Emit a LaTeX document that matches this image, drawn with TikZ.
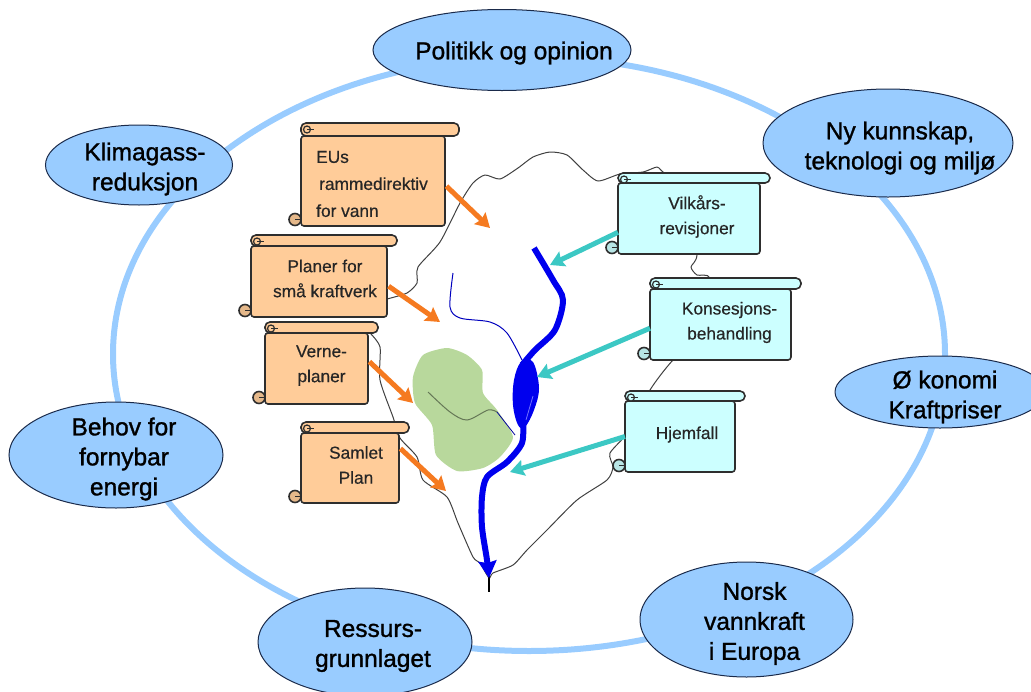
\documentclass[tikz,border=0pt]{standalone}
\usepackage{fontspec}
\setmainfont{Liberation Sans}
\newfontfamily\bubblefont{Liberation Sans}[FakeBold=1.2]
\newfontfamily\scrollfont{Liberation Sans}[FakeBold=0.4]
\usetikzlibrary{shapes.geometric,arrows.meta}

\definecolor{ringblue}{HTML}{99CCFF}
\definecolor{bubbleblue}{HTML}{99CCFF}
\definecolor{bubbleline}{HTML}{1A2A4A}
\definecolor{scrollorange}{HTML}{FFCC99}
\definecolor{scrollcyan}{HTML}{CCFFFF}
\definecolor{scrollline}{HTML}{2E2E2E}
\definecolor{arroworange}{HTML}{F57A20}
\definecolor{arrowteal}{HTML}{3CC8C4}
\definecolor{landgreen}{HTML}{B8D89C}
\definecolor{riverblue}{HTML}{0000EE}

\tikzset{
    bubble/.style={draw=bubbleline, line width=1pt, ellipse, fill=bubbleblue, inner sep=0pt},
    bubbletext/.style={align=center, text=black, font=\bubblefont\fontsize{24.5}{30}\selectfont},
    scrollbody/.style={rectangle, draw=scrollline, line width=1.6pt, rounded corners=3pt, inner sep=0pt, outer sep=0pt},
    scrolltext/.style={align=center, text=black!85, font=\scrollfont\fontsize{17.3}{25}\selectfont},
    orangearrow/.style={->, draw=arroworange, line width=5pt, shorten <=2pt},
    tealarrow/.style={->, draw=arrowteal, line width=5pt},
}

% name, left, top, roll end, roll bottom, body right, bottom, fill
\newcommand{\scrollbox}[8]{
    \node[scrollbody, fill=#8, minimum width={(#6-#2)*1pt}, minimum height={(#7-#5)*1pt}] (#1) at ({(#2+#6)/2},{(#5+#7)/2}) {};
    \draw[scrollline, line width=1.6pt, fill=#8, rounded corners=5pt] (#2,#5) -- (#2,#3) -- (#4,#3) -- (#4,#5) -- cycle;
    \draw[scrollline, line width=1.2pt, fill=#8] ({#2+6},{#3+6.5}) circle[radius=3.5pt];
    \draw[scrollline, line width=1pt] ({#2+6},{#3+6.5}) -- ({#2+13},{#3+6.5});
    \draw[scrollline, line width=1.6pt, fill=#8!90!black] ({#2-6},{#7-6.5}) circle[radius=6pt];
    \draw[scrollline, line width=1pt] ({#2-6},{#7-6.5}) -- ({#2},{#7-6.5});
}

\begin{document}
\begin{tikzpicture}[x=1pt,y=-1pt,>={Stealth[length=14pt,width=16pt,inset=2pt]}]
    \useasboundingbox (0,0) rectangle (1031,691);

    % ring behind the bubbles
    \draw[ringblue, line width=6pt] (529,354) ellipse [x radius=416, y radius=297];

    % catchment outline
    \draw[black!75, line width=1pt, line join=round] plot[smooth, tension=0.4] coordinates {
        (387,299) (407,293) (417,283) (418,267) (440,242) (460,203) (473,183) (485,175) (500,179)
        (518,168) (533,157) (550,152) (567,155) (583,170) (598,181) (620,174) (643,172) (657,167)
        (663,172) (697,200) (697,255) (691,267) (697,275) (710,278) (715,320) (673,360) (650,390)
        (630,430) (610,453) (613,467) (607,480) (577,500) (547,530) (527,550) (513,565) (493,573)
        (489,578) (480,563) (473,557) (458,523) (447,497) (423,480) (417,457) (400,438) (393,417)
        (380,380) (380,347) (370,333)};
    \draw[black, line width=1.2pt] (489,576) -- (489,592);

    % protected area
    \fill[landgreen] plot[smooth cycle, tension=0.4] coordinates {
        (413,377) (423,355) (447,348) (467,355) (482,370) (483,393) (497,410) (513,437) (500,457)
        (483,468) (457,471) (436,455) (432,425) (415,403)};
    \draw[black!45!landgreen, line width=1pt] plot[smooth, tension=0.5] coordinates {
        (428,392) (450,412) (467,420) (488,410) (497,412)};
    \draw[blue!60!black, line width=0.8pt] (497,412) -- (515,435);

    % rivers and lake
    \draw[riverblue!80!black, line width=1pt] plot[smooth, tension=0.5] coordinates {
        (453,273) (450,307) (460,318) (490,322) (507,333) (522,360)};
    \draw[riverblue, line width=6pt] plot[smooth, tension=0.5] coordinates {
        (534,248) (553,280) (563,300) (555,330) (535,350) (522,365)};
    \fill[riverblue] plot[smooth cycle, tension=0.6] coordinates {
        (521,362) (533,362) (539,388) (534,410) (525,427) (518,425) (513,405) (514,380)};
    \draw[blue!55!white, line width=0.8pt] (533,396) -- (526,420);
    \draw[riverblue, line width=6pt, ->, >={Stealth[length=17pt,width=18pt,inset=2pt]}] plot[smooth, tension=0.5] coordinates {
        (523,420) (522,443) (507,462) (487,477) (482,497) (482,527) (487,560) (489,578)};

    % scrolls
    \scrollbox{eus}{301}{123}{459}{136}{445}{226}{scrollorange}
    \scrollbox{planer}{251}{235}{397}{246}{387}{317}{scrollorange}
    \scrollbox{verne}{265}{322}{378}{333}{368}{404}{scrollorange}
    \scrollbox{samlet}{301}{422}{409}{433}{399}{503}{scrollorange}
    \scrollbox{vilkar}{618}{173}{770}{183}{760}{254}{scrollcyan}
    \scrollbox{konsesjon}{650}{278}{801}{289}{791}{360}{scrollcyan}
    \scrollbox{hjemfall}{625}{391}{745}{401}{735}{472}{scrollcyan}

    \node[scrolltext, align=left, xshift=-1pt, yshift=-3pt] (eustext) at (eus) {EUs\\[2pt]\hspace*{3pt}rammedirektiv\\[2pt]for vann};
    \node[scrolltext, xshift=6pt, yshift=3pt] (planertext) at (planer) {Planer for\\små kraftverk};
    \node[scrolltext, xshift=5pt, yshift=3pt] (vernetext) at (verne) {Verne-\\planer};
    \node[scrolltext, xshift=6pt, yshift=3pt] (samlettext) at (samlet) {Samlet\\Plan};
    \node[scrolltext, xshift=8pt, yshift=2pt] (vilkartext) at (vilkar) {Vilkårs-\\revisjoner};
    \node[scrolltext, xshift=9pt, yshift=2pt] (konsesjontext) at (konsesjon) {Konsesjons-\\behandling};
    \node[scrolltext, xshift=7pt, yshift=2pt] (hjemfalltext) at (hjemfall) {Hjemfall};

    % arrow tips on the map
    \coordinate (eustip) at (490,228);
    \coordinate (planertip) at (440,322);
    \coordinate (vernetip) at (413,403);
    \coordinate (samlettip) at (446,491);
    \coordinate (vilkartip) at (550,265);
    \coordinate (konsesjontip) at (537,377);
    \coordinate (hjemfalltip) at (510,472);

    \draw[orangearrow] (eus.-3) -- (eustip);
    \draw[orangearrow] (planer.-3) -- (planertip);
    \draw[orangearrow] (verne.9) -- (vernetip);
    \draw[orangearrow] (samlet.23) -- (samlettip);
    \draw[tealarrow] (vilkar.191) -- (vilkartip);
    \draw[tealarrow] (konsesjon.183) -- (konsesjontip);
    \draw[tealarrow] (hjemfall.180) -- (hjemfalltip);

    % bubbles round the ring
    \node[bubble, minimum width=258pt, minimum height=81pt] (politikk) at (502,50) {};
    \node[bubble, minimum width=250pt, minimum height=108pt] (kunnskap) at (888,143) {};
    \node[bubble, minimum width=187pt, minimum height=80pt] (klima) at (139,165) {};
    \node[bubble, minimum width=210pt, minimum height=72pt] (okonomi) at (940,392) {};
    \node[bubble, minimum width=214pt, minimum height=106pt] (behov) at (116,455) {};
    \node[bubble, minimum width=213pt, minimum height=115pt] (norsk) at (746.5,619.5) {};
    \node[bubble, minimum width=214pt, minimum height=108pt] (ressurs) at (365,642) {};

    \node[bubbletext, xshift=12pt, yshift=-3pt] (politikktext) at (politikk) {Politikk og opinion};
    \node[bubbletext, xshift=12pt, yshift=-5pt] (kunnskaptext) at (kunnskap) {Ny kunnskap,\\teknologi og miljø};
    \node[bubbletext, xshift=6pt, yshift=-4pt] (klimatext) at (klima) {Klimagass-\\reduksjon};
    \node[bubbletext, xshift=5pt, yshift=-5pt] (okonomitext) at (okonomi) {Ø konomi\\Kraftpriser};
    \node[bubbletext, xshift=8pt, yshift=-4pt] (behovtext) at (behov) {Behov for\\fornybar\\energi};
    \node[bubbletext, xshift=8pt, yshift=-4pt] (norsktext) at (norsk) {Norsk\\vannkraft\\i Europa};
    \node[bubbletext, xshift=8pt, yshift=-4pt] (ressurstext) at (ressurs) {Ressurs-\\grunnlaget};
\end{tikzpicture}
\end{document}
